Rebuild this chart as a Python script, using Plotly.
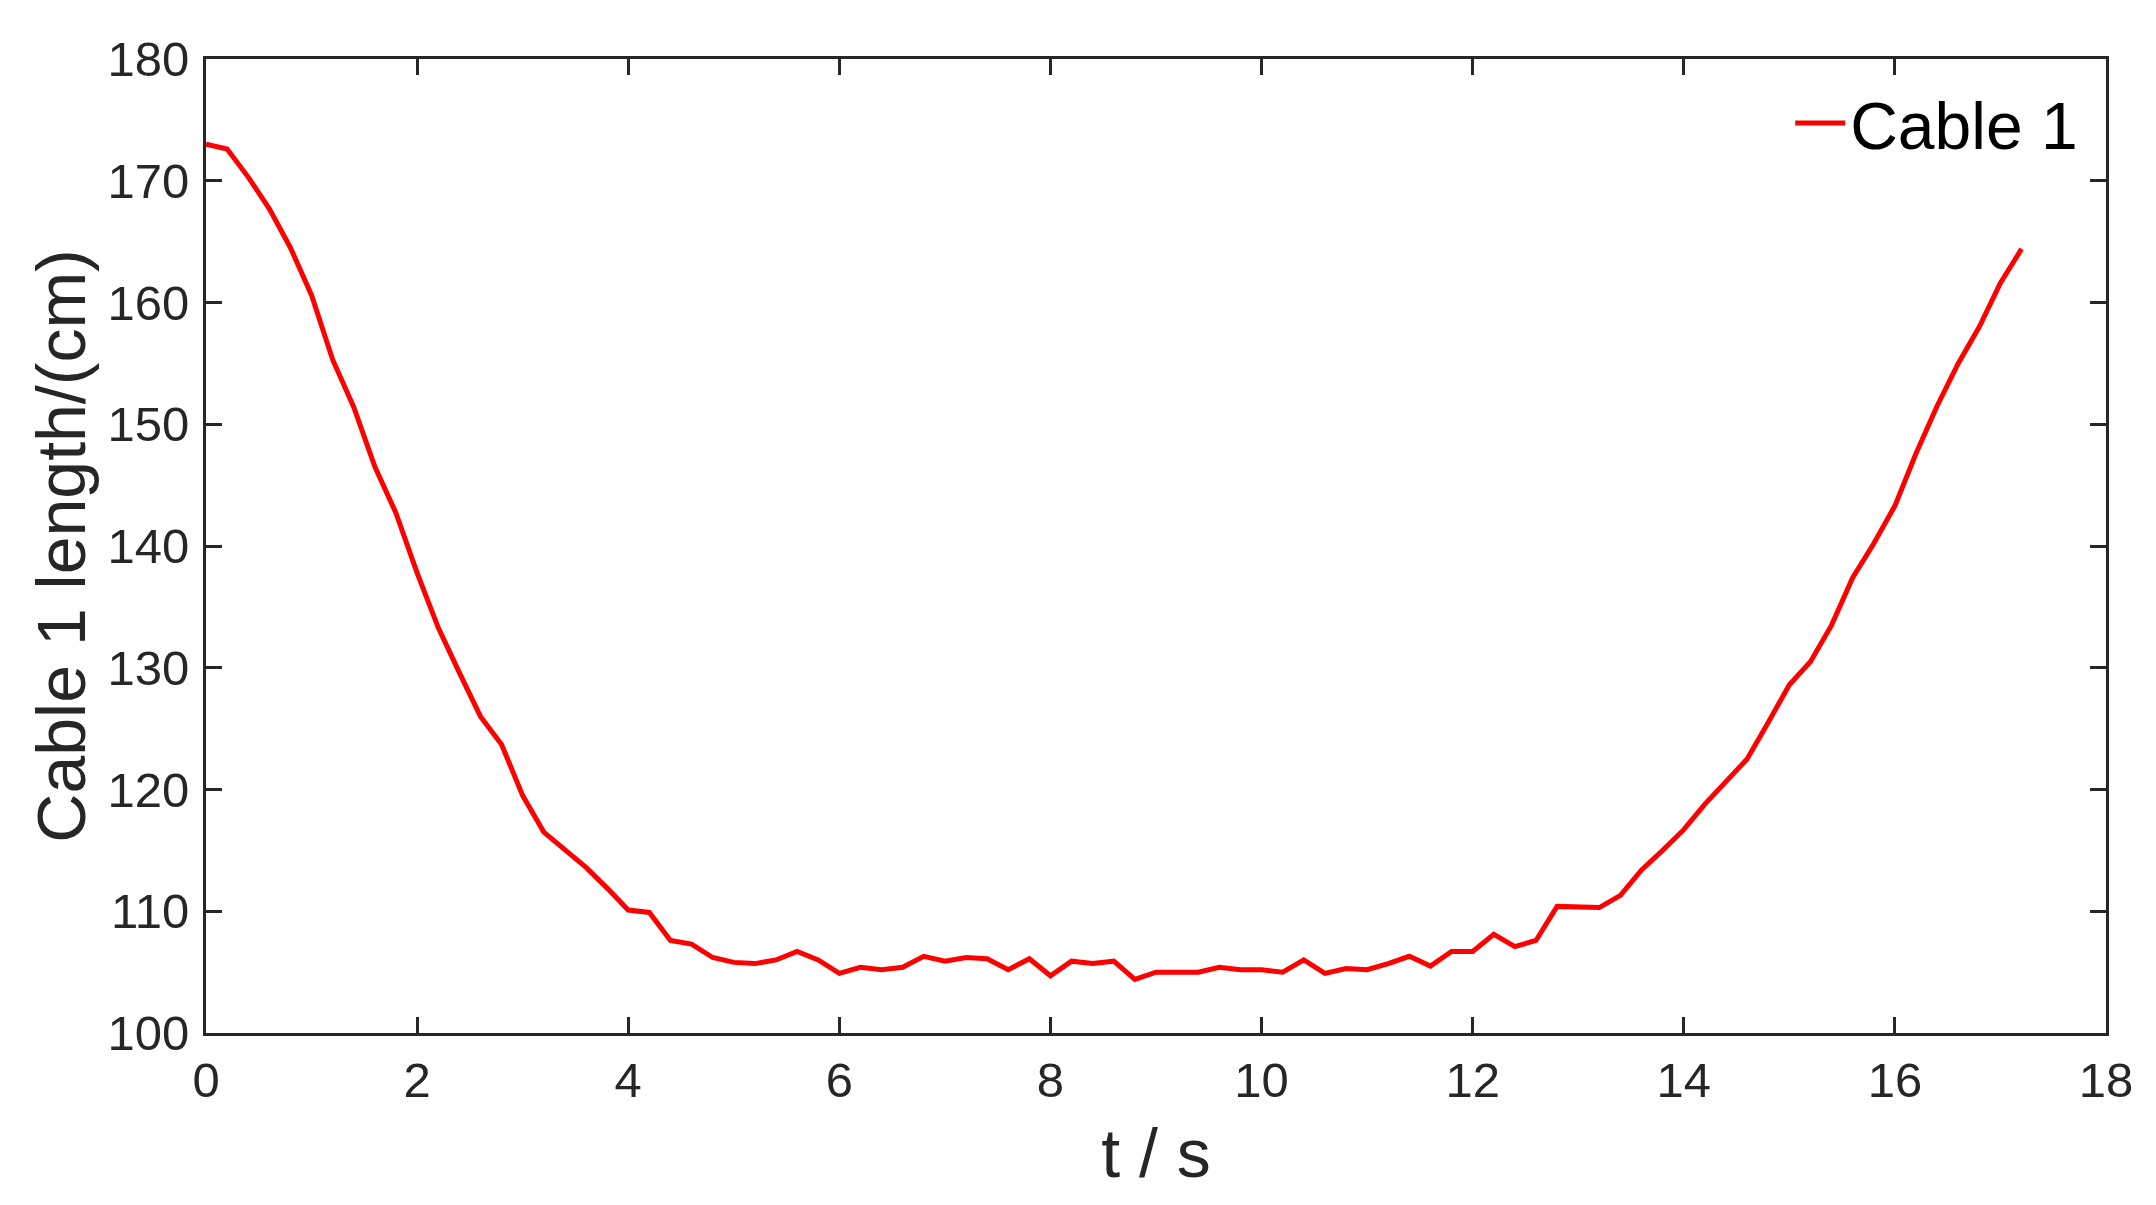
import plotly.graph_objects as go

t = [0.0, 0.2, 0.4, 0.6, 0.8, 1.0, 1.2, 1.4, 1.6, 1.8, 2.0, 2.2, 2.4, 2.6, 2.8, 3.0,
     3.2, 3.4, 3.6, 3.8, 4.0, 4.2, 4.4, 4.6, 4.8, 5.0, 5.2, 5.4, 5.6, 5.8, 6.0,
     6.2, 6.4, 6.6, 6.8, 7.0, 7.2, 7.4, 7.6, 7.8, 8.0, 8.2, 8.4, 8.6, 8.8, 9.0,
     9.2, 9.4, 9.6, 9.8, 10.0, 10.2, 10.4, 10.6, 10.8, 11.0, 11.2, 11.4, 11.6,
     11.8, 12.0, 12.2, 12.4, 12.6, 12.8, 13.0, 13.2, 13.4, 13.6, 13.8, 14.0,
     14.2, 14.4, 14.6, 14.8, 15.0, 15.2, 15.4, 15.6, 15.8, 16.0, 16.2, 16.4,
     16.6, 16.8, 17.0, 17.2]
cable1 = [173.0, 172.6, 170.3, 167.7, 164.5, 160.6, 155.3, 151.4, 146.5, 142.7,
          137.8, 133.3, 129.6, 126.0, 123.7, 119.5, 116.5, 115.0, 113.6, 111.9,
          110.1, 109.9, 107.6, 107.3, 106.2, 105.8, 105.7, 106.0, 106.7, 106.0,
          104.9, 105.4, 105.2, 105.4, 106.3, 105.9, 106.2, 106.1, 105.2, 106.1,
          104.7, 105.9, 105.7, 105.9, 104.4, 105.0, 105.0, 105.0, 105.4, 105.2,
          105.2, 105.0, 106.0, 104.9, 105.3, 105.2, 105.7, 106.3, 105.5, 106.7,
          106.7, 108.1, 107.1, 107.6, 110.4, 110.3, 110.3, 111.3, 113.4, 115.0,
          116.7, 118.8, 120.6, 122.5, 125.5, 128.6, 130.5, 133.5, 137.4, 140.2,
          143.3, 147.6, 151.5, 155.0, 158.0, 161.6, 164.4]

x_ticks = [0, 2, 4, 6, 8, 10, 12, 14, 16, 18]
y_ticks = [100, 110, 120, 130, 140, 150, 160, 170, 180]

FONT = "Liberation Sans, Arial"
INK = "#262626"

fig = go.Figure()
fig.add_trace(go.Scatter(x=t, y=cable1, mode="lines", name="Cable 1",
                         line=dict(color="#ff0000", width=5)))

axis_common = dict(
    showgrid=False, zeroline=False, showline=True, linecolor=INK,
    linewidth=3, mirror="allticks", ticks="inside", ticklen=16, tickwidth=3,
    tickcolor=INK,
    tickfont=dict(family=FONT, size=49, color=INK),
)

fig.update_layout(
    width=2156, height=1205,
    margin=dict(l=198, r=58, t=51, b=180),
    paper_bgcolor="white", plot_bgcolor="white",
    xaxis=dict(range=[0, 18], tickvals=x_ticks, ticktext=[str(v) for v in x_ticks],
               ticklabelstandoff=2,
               title=dict(text="t / s", standoff=24,
                          font=dict(family=FONT, size=68, color=INK)),
               **axis_common),
    yaxis=dict(range=[100, 180], tickvals=y_ticks, ticktext=[str(v) for v in y_ticks],
               ticklabelstandoff=4,
               title=dict(text="Cable 1 length/(cm)", standoff=0,
                          font=dict(family=FONT, size=68, color=INK)),
               **axis_common),
    legend=dict(x=0.988, y=0.985, xanchor="right", yanchor="top",
                bgcolor="rgba(0,0,0,0)", borderwidth=0, itemwidth=50,
                font=dict(family=FONT, size=66, color="black")),
    showlegend=True,
)

fig.write_html("out.html")
